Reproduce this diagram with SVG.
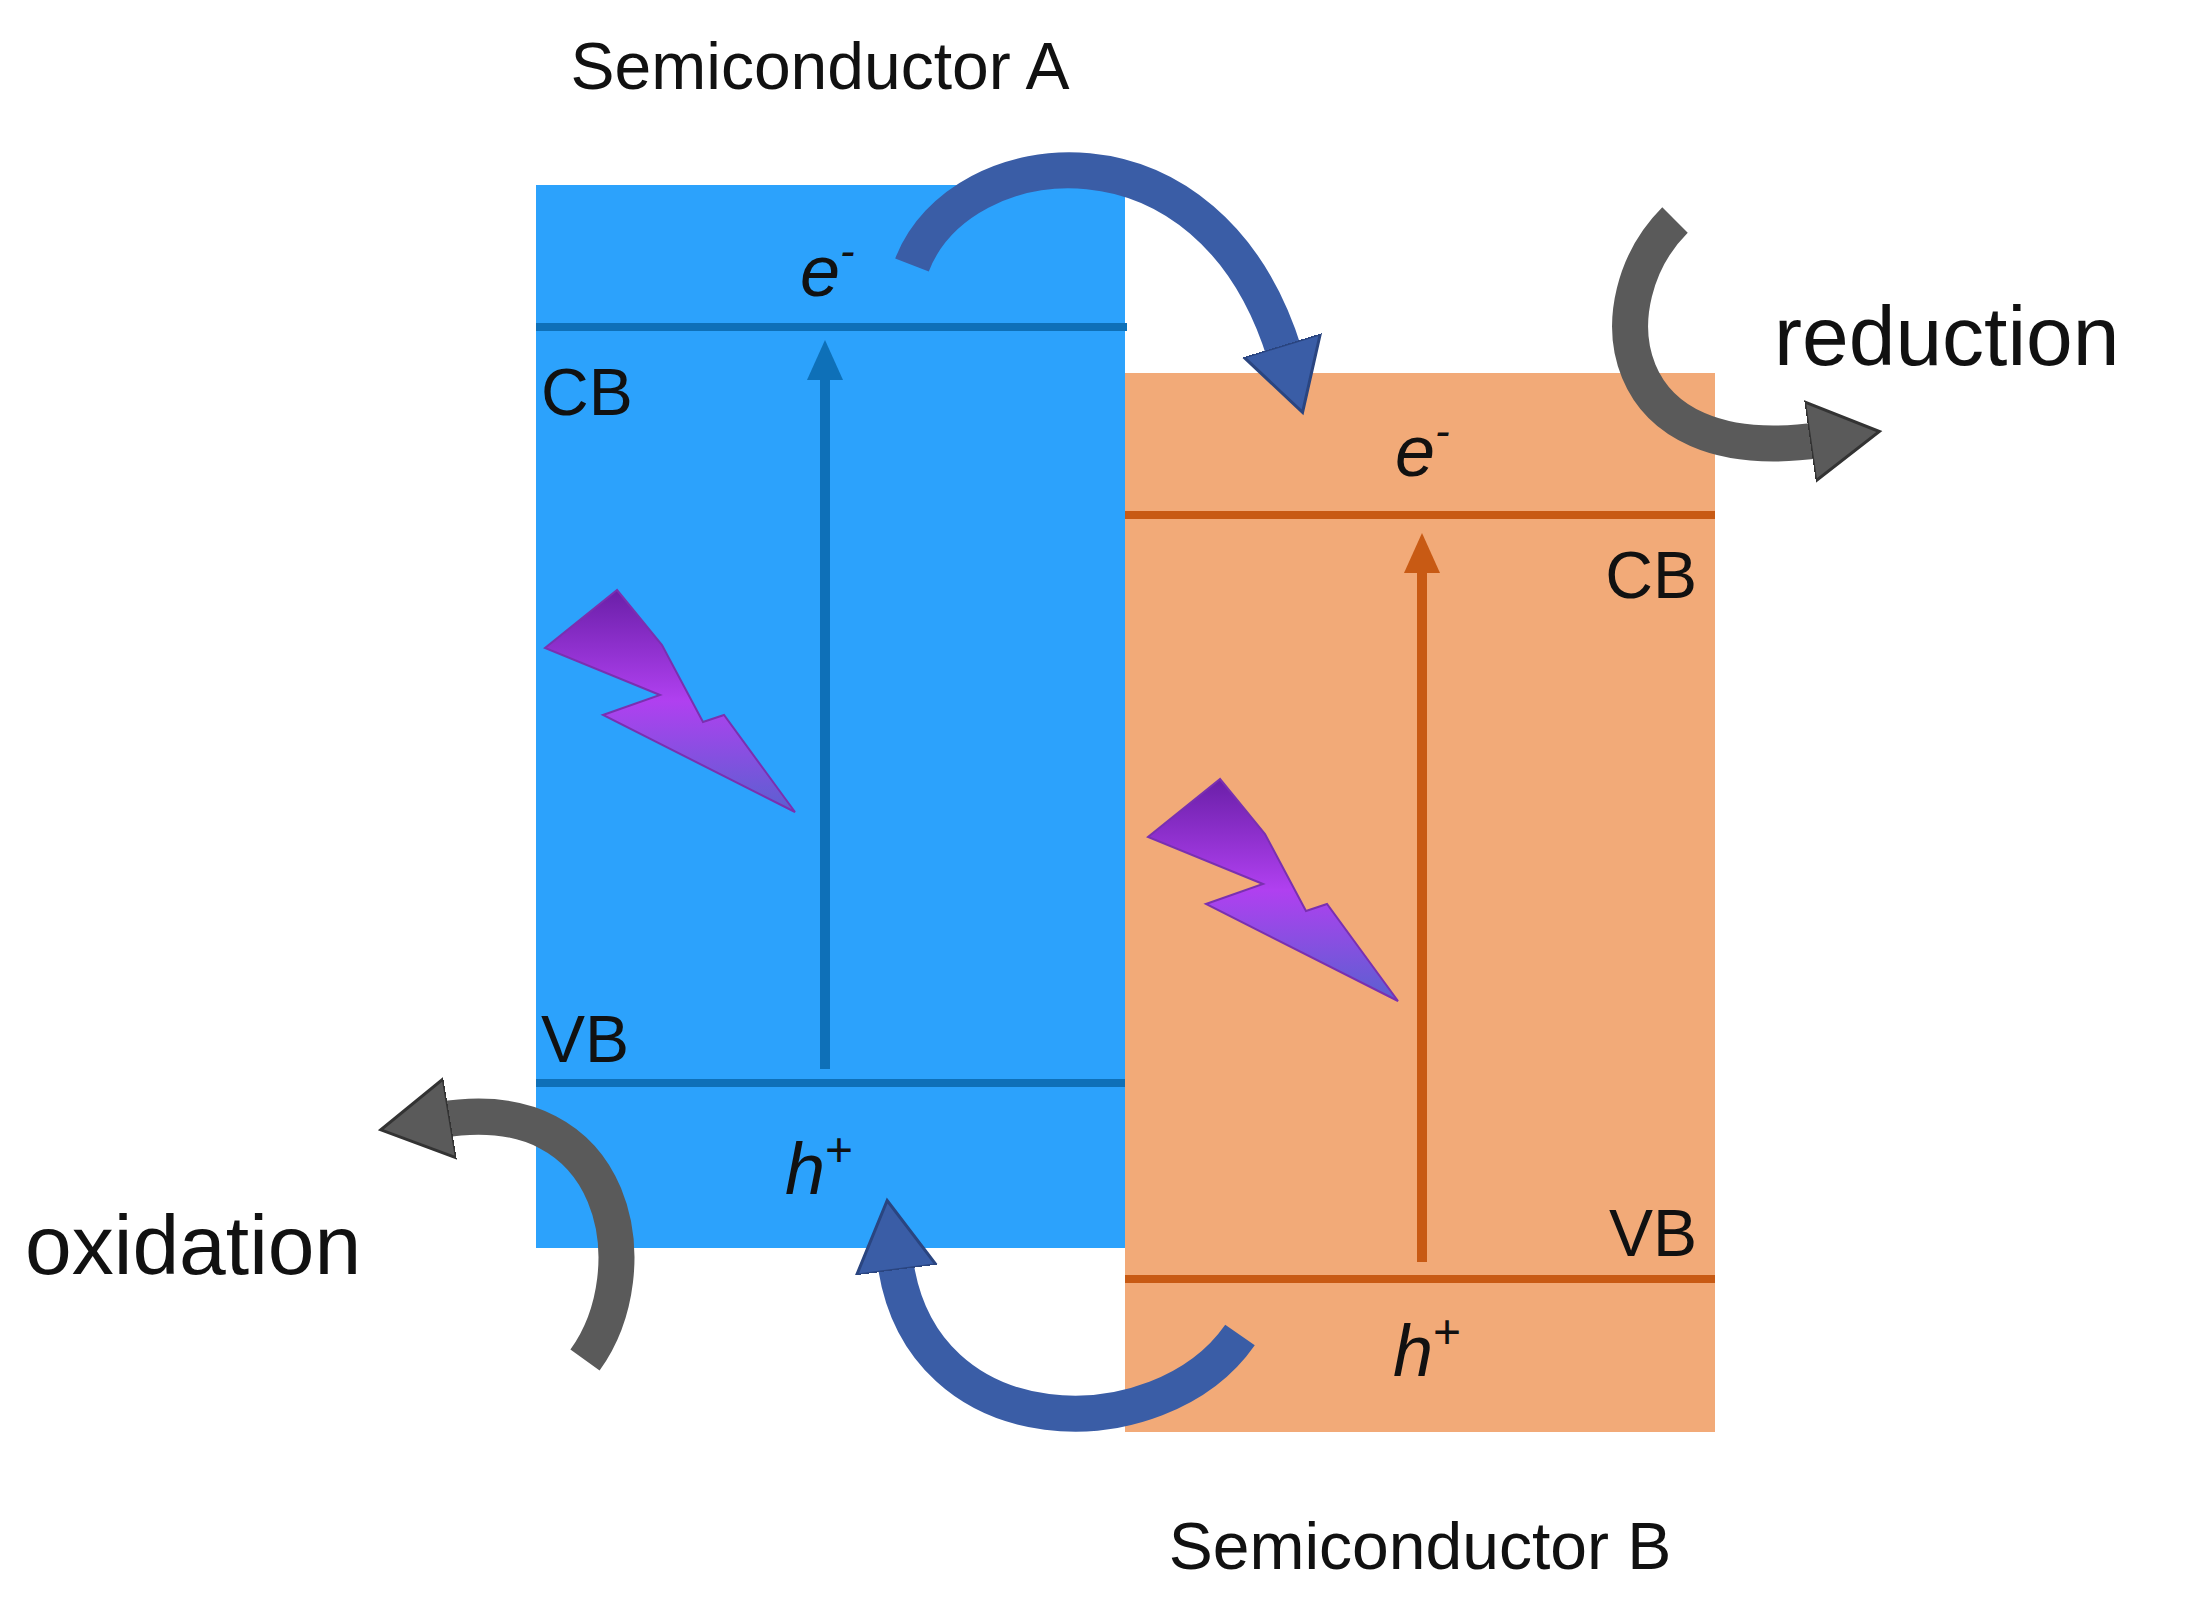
<svg xmlns="http://www.w3.org/2000/svg" width="2199" height="1603" viewBox="0 0 2199 1603">
<style>
text{font-family:"Liberation Sans",Arial,sans-serif;fill:#111}
.lbl{font-size:66px}
.big{font-size:84px}
.band{font-size:66px}
.car{font-size:72px;font-style:italic}
</style>
<defs>
<linearGradient id="bolt" x1="0" y1="0" x2="0" y2="1"><stop offset="0" stop-color="#6a1fa8"/><stop offset="0.5" stop-color="#b040f0"/><stop offset="1" stop-color="#5a60d0"/></linearGradient>
<marker id="hb" markerUnits="userSpaceOnUse" markerWidth="100" markerHeight="100" refX="10" refY="50" orient="auto"><path d="M0,10 L70,50 L0,90 Z" fill="#3a5da6" stroke="#2a4580" stroke-width="3"/></marker>
<marker id="hg" markerUnits="userSpaceOnUse" markerWidth="100" markerHeight="100" refX="10" refY="50" orient="auto"><path d="M0,10 L70,50 L0,90 Z" fill="#5a5a5a" stroke="#333" stroke-width="3"/></marker>
<marker id="ab" markerUnits="userSpaceOnUse" markerWidth="40" markerHeight="40" refX="20" refY="20" orient="auto"><path d="M0,2 L40,20 L0,38 Z" fill="#0e70b8"/></marker>
<marker id="ao" markerUnits="userSpaceOnUse" markerWidth="40" markerHeight="40" refX="20" refY="20" orient="auto"><path d="M0,2 L40,20 L0,38 Z" fill="#c85a14"/></marker>
<polygon id="boltshape" points="617,590 545,648 660,695 603,715 795,812 724,715 703,722 662,645" fill="url(#bolt)" stroke="#7a30b0" stroke-width="2"/>
</defs>
<g id="semA">
<rect x="536" y="185" width="589" height="1063" fill="#2ca2fc"/>
<line x1="536" y1="327" x2="1127" y2="327" stroke="#0e70b8" stroke-width="8"/>
<line x1="536" y1="1083" x2="1125" y2="1083" stroke="#0e70b8" stroke-width="8"/>
<line x1="825" y1="1069" x2="825" y2="360" stroke="#0e70b8" stroke-width="10" marker-end="url(#ab)"/>
<use href="#boltshape"/>
<text class="band" x="541" y="415">CB</text>
<text class="band" x="541" y="1062">VB</text>
<text class="car" x="800" y="296">e<tspan font-size="44" dy="-30">-</tspan></text>
<text class="car" x="785" y="1194">h<tspan font-size="48" dy="-28" font-style="normal">+</tspan></text>
<text class="lbl" x="820" y="89" text-anchor="middle">Semiconductor A</text>
</g>
<g id="semB">
<rect x="1125" y="373" width="590" height="1059" fill="#f2aa78"/>
<line x1="1125" y1="515" x2="1715" y2="515" stroke="#c85a14" stroke-width="8"/>
<line x1="1125" y1="1279" x2="1715" y2="1279" stroke="#c85a14" stroke-width="8"/>
<line x1="1422" y1="1262" x2="1422" y2="553" stroke="#c85a14" stroke-width="10" marker-end="url(#ao)"/>
<use href="#boltshape" transform="translate(603,189)"/>
<text class="band" x="1697" y="598" text-anchor="end">CB</text>
<text class="band" x="1697" y="1256" text-anchor="end">VB</text>
<text class="car" x="1395" y="476">e<tspan font-size="44" dy="-30">-</tspan></text>
<text class="car" x="1393" y="1376">h<tspan font-size="48" dy="-28" font-style="normal">+</tspan></text>
<text class="lbl" x="1420" y="1569" text-anchor="middle">Semiconductor B</text>
</g>
<g id="connectors" fill="none">
<path d="M912 265 C960 140,1210 110,1285 355" stroke="#3a5da6" stroke-width="36" marker-end="url(#hb)"/>
<path d="M1240 1335 C1160 1450,920 1450,895 1260" stroke="#3a5da6" stroke-width="36" marker-end="url(#hb)"/>
<path d="M1675 220 C1595 300,1610 470,1820 440" stroke="#5a5a5a" stroke-width="36" marker-end="url(#hg)"/>
<path d="M585 1360 C650 1270,620 1090,440 1120" stroke="#5a5a5a" stroke-width="36" marker-end="url(#hg)"/>
</g>
<text class="big" x="1774" y="365">reduction</text>
<text class="big" x="25" y="1274">oxidation</text>
</svg>
